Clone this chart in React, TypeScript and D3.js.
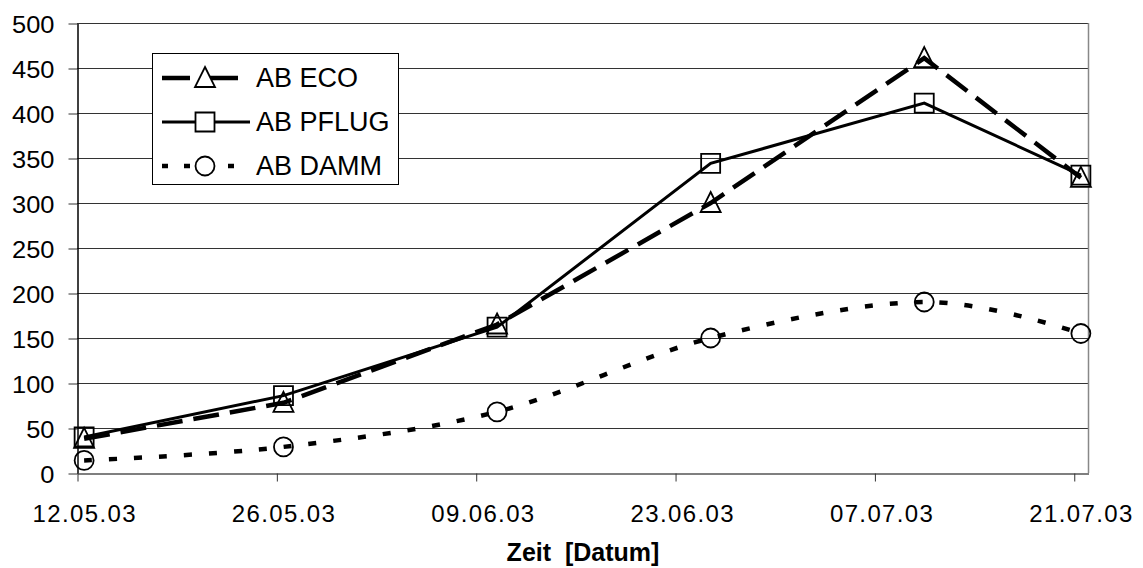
import { useEffect, useRef } from "react";
import * as d3 from "d3";

// sampling dates (day, month) in 2003
const dates = ["2003-05-12", "2003-05-26", "2003-06-10", "2003-06-25", "2003-07-10", "2003-07-21"];
const ecoValues = [38, 78, 165, 300, 461, 328];
const pflugValues = [40, 86, 162, 344, 411, 331];
const dammValues = [14, 29, 68, 150, 190, 155];
const xTickLabels = ["12.05.03", "26.05.03", "09.06.03", "23.06.03", "07.07.03", "21.07.03"];
const yTicks = [0, 50, 100, 150, 200, 250, 300, 350, 400, 450, 500];

const parse = (s: string) => new Date(s + "T00:00:00");

export default function App() {
  const svgRef = useRef<SVGSVGElement>(null);

  useEffect(() => {
    const width = 1143,
      height = 568;
    const left = 77,
      right = 1088,
      top = 23,
      bottom = 473;
    const font = "Liberation Sans, Arial, sans-serif";

    const svg = d3.select(svgRef.current).attr("width", width).attr("height", height);
    svg.selectAll("*").remove();

    // date axis, one day = one unit, points sit in the middle of their day
    const x = d3
      .scaleTime()
      .domain([parse("2003-05-12"), parse("2003-07-22")])
      .range([left, right]);
    const y = d3.scaleLinear().domain([0, 500]).range([bottom, top]);
    const px = (s: string) => x(d3.timeHour.offset(parse(s), 12));

    // gridlines
    svg
      .append("g")
      .selectAll("line")
      .data(yTicks.filter((d) => d > 0))
      .join("line")
      .attr("x1", left)
      .attr("x2", right)
      .attr("y1", (d) => y(d) + 0.5)
      .attr("y2", (d) => y(d) + 0.5)
      .attr("stroke", "#333")
      .attr("stroke-width", 1);

    // right border
    svg
      .append("line")
      .attr("x1", right + 0.5)
      .attr("x2", right + 0.5)
      .attr("y1", top)
      .attr("y2", bottom)
      .attr("stroke", "#888")
      .attr("stroke-width", 1.5);

    // y axis
    const yAxis = svg
      .append("g")
      .attr("transform", `translate(${left + 0.5},0.5)`)
      .call(d3.axisLeft(y).tickValues(yTicks).tickSize(9).tickPadding(13).tickSizeOuter(0));
    yAxis.select(".domain").attr("stroke", "#000").attr("stroke-width", 1.5);
    yAxis.selectAll("line").attr("stroke", "#333");
    yAxis
      .selectAll("text")
      .attr("font-family", font)
      .attr("font-size", 24)
      .attr("fill", "#000")
      .attr("dy", "0.36em")
      .attr("transform", "scale(1.06,1)")
      .attr("x", -23 / 1.06);

    // x axis
    const tickDates = xTickLabels.map((l) => {
      const [d, m, yy] = l.split(".");
      return parse(`20${yy}-${m}-${d}`);
    });
    const xAxis = svg
      .append("g")
      .attr("transform", `translate(0.5,${bottom + 0.5})`)
      .call(
        d3
          .axisBottom(x)
          .tickValues(tickDates)
          .tickFormat((_, i) => xTickLabels[i])
          .tickSize(8)
          .tickPadding(23)
          .tickSizeOuter(0)
      );
    xAxis.select(".domain").attr("stroke", "#555").attr("stroke-width", 1.5);
    xAxis.selectAll("line").attr("stroke", "#333");
    xAxis
      .selectAll("text")
      .attr("font-family", font)
      .attr("font-size", 24)
      .attr("textLength", 103)
      .attr("fill", "#000")
      .attr("dx", 6);

    svg
      .append("text")
      .attr("x", 583)
      .attr("y", 561)
      .attr("text-anchor", "middle")
      .attr("font-family", font)
      .attr("font-size", 25)
      .attr("font-weight", "bold")
      .attr("xml:space", "preserve")
      .text("Zeit  [Datum]");

    const series = [
      { name: "AB ECO", values: ecoValues, width: 4.5, dash: "26,11", curve: d3.curveLinear, marker: "triangle" },
      { name: "AB PFLUG", values: pflugValues, width: 3, dash: null, curve: d3.curveLinear, marker: "square" },
      { name: "AB DAMM", values: dammValues, width: 4.5, dash: "8,17", curve: d3.curveCardinal.tension(0), marker: "circle" },
    ];

    const symbolPath = (m: string) => {
      if (m === "triangle") return "M0,-11L10,9L-10,9Z";
      if (m === "square") return "M-9.5,-9.5H9.5V9.5H-9.5Z";
      return d3.arc()({ innerRadius: 0, outerRadius: 9.5, startAngle: 0, endAngle: 2 * Math.PI }) as string;
    };

    const line = d3.line<[string, number]>();

    for (const s of series) {
      const pts = dates.map((d, i) => [d, s.values[i]] as [string, number]);
      svg
        .append("path")
        .attr("d", line.x((d) => px(d[0])).y((d) => y(d[1])).curve(s.curve)(pts))
        .attr("fill", "none")
        .attr("stroke", "#000")
        .attr("stroke-width", s.width)
        .attr("stroke-dasharray", s.dash);
      svg
        .append("g")
        .selectAll("path")
        .data(pts)
        .join("path")
        .attr("transform", (d) => `translate(${px(d[0])},${y(d[1])})`)
        .attr("d", symbolPath(s.marker))
        .attr("fill", "none")
        .attr("stroke", "#000")
        .attr("stroke-width", 1.8);
    }

    // legend
    const lg = svg.append("g");
    lg.append("rect")
      .attr("x", 152.5)
      .attr("y", 53.5)
      .attr("width", 246)
      .attr("height", 131)
      .attr("fill", "#fff")
      .attr("stroke", "#000")
      .attr("stroke-width", 1);
    series.forEach((s, i) => {
      const cy = 78 + i * 44;
      lg.append("line")
        .attr("x1", 162)
        .attr("x2", i === 1 ? 250 : 238)
        .attr("y1", cy)
        .attr("y2", cy)
        .attr("stroke", "#000")
        .attr("stroke-width", s.width)
        .attr("stroke-dasharray", i === 0 ? "28,20" : i === 2 ? "6,16" : null);
      lg.append("path")
        .attr("transform", `translate(205,${cy})`)
        .attr("d", symbolPath(s.marker))
        .attr("fill", "#fff")
        .attr("stroke", "#000")
        .attr("stroke-width", 1.8);
      lg.append("text")
        .attr("x", 256)
        .attr("y", cy + 9)
        .attr("font-family", font)
        .attr("font-size", 27)
        .attr("fill", "#000")
        .text(s.name);
    });
  }, []);

  return <svg ref={svgRef} style={{ position: "absolute", left: 0, top: 0 }}></svg>;
}
